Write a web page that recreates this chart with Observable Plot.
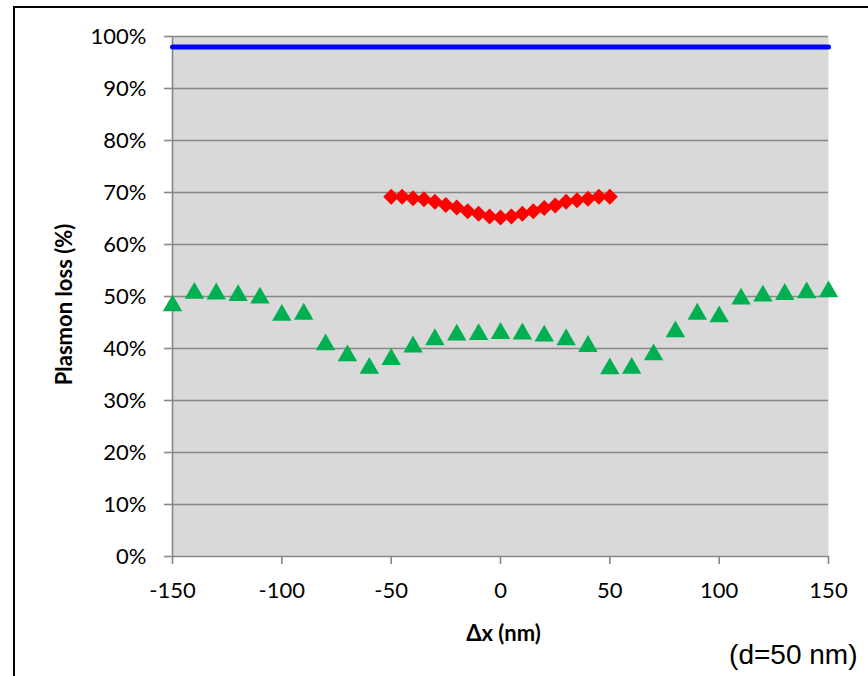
<!DOCTYPE html>
<html>
<head>
<meta charset="utf-8">
<script src="https://cdn.jsdelivr.net/npm/d3@7"></script>
<script src="https://cdn.jsdelivr.net/npm/@observablehq/plot@0.6"></script>
<style>
  html, body { margin: 0; padding: 0; background: #fff; overflow: hidden; }
  #wrap { position: relative; width: 868px; height: 676px; }
  #border { position: absolute; left: 13px; top: 6px; width: 1000px; height: 1000px;
            border-left: 2px solid #000; border-top: 2px solid #000; pointer-events: none; }
  #chart { position: absolute; left: 0; top: 0; }
</style>
</head>
<body>
<div id="wrap"><div id="chart"></div><div id="border"></div></div>
<script>
// Δx positions (nm) and plasmon loss (%)
const blueX = [-150, 150];
const blueY = [98, 98];

const redX = [-50, -45, -40, -35, -30, -25, -20, -15, -10, -5, 0, 5, 10, 15, 20, 25, 30, 35, 40, 45, 50];
const redY = [69.2, 69.2, 68.9, 68.7, 68.2, 67.6, 67.1, 66.4, 65.9, 65.4, 65.2, 65.4, 65.9, 66.4, 67.0, 67.5, 68.2, 68.5, 68.8, 69.2, 69.2];

const greenX = [-150, -140, -130, -120, -110, -100, -90, -80, -70, -60, -50, -40, -30, -20, -10, 0, 10, 20, 30, 40, 50, 60, 70, 80, 90, 100, 110, 120, 130, 140, 150];
const greenY = [48.8, 51.2, 51.1, 50.8, 50.3, 47.0, 47.2, 41.3, 39.2, 36.8, 38.5, 40.9, 42.3, 43.2, 43.3, 43.5, 43.4, 43.0, 42.3, 41.0, 36.7, 36.8, 39.4, 43.8, 47.2, 46.7, 50.1, 50.7, 51.0, 51.3, 51.5];

const xTicks = [-150, -100, -50, 0, 50, 100, 150];
const yTicks = [0, 10, 20, 30, 40, 50, 60, 70, 80, 90, 100];
const yGrid = [10, 20, 30, 40, 50, 60, 70, 80, 90, 100];

const xTitle = "Δx (nm)";
const yTitle = "Plasmon loss (%)";
const note = "(d=50 nm)";

const blue = blueX.map((x, i) => ({x, y: blueY[i]}));
const red = redX.map((x, i) => ({x, y: redY[i]}));
const green = greenX.map((x, i) => ({x, y: greenY[i]}));

const gridColor = "#878787";

const chart = Plot.plot({
  width: 868,
  height: 676,
  marginLeft: 172,
  marginRight: 40,
  marginTop: 36,
  marginBottom: 120,
  style: {fontFamily: "Lato, sans-serif", background: "transparent", color: "#000"},
  x: {domain: [-150, 150]},
  y: {domain: [0, 100]},
  marks: [
    Plot.frame({fill: "#d9d9d9", stroke: null}),
    Plot.gridY(yGrid, {stroke: gridColor, strokeWidth: 1.6, strokeOpacity: 1}),
    Plot.ruleY([0], {stroke: gridColor, strokeWidth: 1.6}),
    Plot.ruleX([-150], {stroke: gridColor, strokeWidth: 1.6}),
    Plot.axisY({ticks: yTicks, tickFormat: d => d + "%", tickSize: 8, tickPadding: 18,
      stroke: gridColor, strokeWidth: 1.6, strokeOpacity: 1, fill: "#000", fontSize: 22, label: null}),
    Plot.axisX({ticks: xTicks, tickFormat: d => String(d), tickSize: 8, tickPadding: 18,
      stroke: gridColor, strokeWidth: 1.6, strokeOpacity: 1, fill: "#000", fontSize: 22, label: null}),
    Plot.line(blue, {x: "x", y: "y", stroke: "#0000ff", strokeWidth: 5, strokeLinecap: "round"}),
    Plot.dot(green, {x: "x", y: "y", symbol: "triangle", r: 7.2, fill: "#00b050", stroke: null, dy: 3}),
    Plot.dot(red, {x: "x", y: "y", symbol: "diamond2", r: 7.2, fill: "#ff0000", stroke: null}),
    Plot.text([xTitle], {frameAnchor: "bottom", dx: 3, dy: 77, fontWeight: "bold", fontSize: 22, fill: "#000", textAnchor: "middle", lineAnchor: "middle"}),
    Plot.text([yTitle], {frameAnchor: "left", dx: -108, dy: 8, rotate: -90, fontWeight: "bold", fontSize: 22, fill: "#000", textAnchor: "middle", lineAnchor: "middle"}),
    Plot.text([note], {frameAnchor: "bottom-right", dx: 29, dy: 99, textAnchor: "end", lineAnchor: "middle",
      fontSize: 28, fontFamily: "Liberation Sans, Arial, sans-serif", fill: "#000"})
  ]
});
document.getElementById("chart").appendChild(chart);
</script>
</body>
</html>
